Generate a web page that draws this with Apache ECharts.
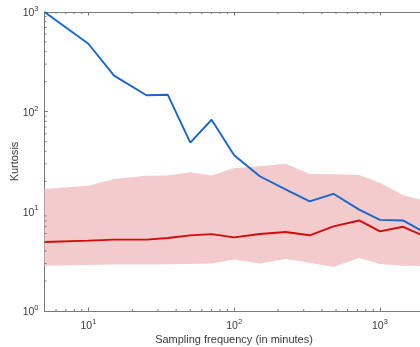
<!DOCTYPE html>
<html>
<head>
<meta charset="utf-8">
<script src="https://cdn.jsdelivr.net/npm/echarts@6/dist/echarts.min.js"></script>
<style>
  html, body { margin: 0; padding: 0; background: #fff; }
  #chart { width: 420px; height: 347px; }
</style>
</head>
<body>
<div id="chart"></div>
<script>
// Sampling frequency (minutes) and kurtosis statistics
const minutes = [5, 10, 15, 25, 35, 50, 70, 100, 150, 225, 330, 480, 720, 1000, 1440, 2880];
const kurtosisObserved = [1000, 480, 230, 146, 148, 49, 83, 36.5, 22.5, 16.6, 12.6, 15.0, 10.4, 8.2, 8.1, 4.6];
const kurtosisMedian = [4.93, 5.08, 5.2, 5.2, 5.4, 5.74, 5.9, 5.48, 5.93, 6.2, 5.75, 7.07, 8.1, 6.3, 7.0, 4.5];
const bandUpper = [16.8, 18.1, 21.1, 22.8, 22.9, 24.6, 22.9, 27.2, 28.3, 30.1, 23.7, 23.6, 23.2, 19.3, 14.5, 11.2];
const bandLower = [2.85, 2.9, 2.92, 2.92, 2.94, 2.96, 3.0, 3.28, 2.99, 3.33, 3.05, 2.77, 3.41, 2.97, 2.85, 2.85];

// Minor tick positions for the log axes
const xMinorTicks = [6, 7, 8, 9, 20, 30, 40, 50, 60, 70, 80, 90, 200, 300, 400, 500, 600, 700, 800, 900, 2000];
const yMinorTicks = [2, 3, 4, 5, 6, 7, 8, 9, 20, 30, 40, 50, 60, 70, 80, 90, 200, 300, 400, 500, 600, 700, 800, 900];

const X_MIN = 5, X_MAX = 2880, Y_MIN = 1, Y_MAX = 1000;
const FONT = "'Liberation Sans', Arial, Helvetica, sans-serif";
const AXIS_COLOR = '#7a7a7a';
const TEXT_COLOR = '#3a3a3a';

function powerLabel(v) {
  const e = Math.log10(v);
  if (Math.abs(e - Math.round(e)) < 1e-6) {
    return '{b|10}{s|' + Math.round(e) + '}';
  }
  return '';
}
const richPow = {
  b: { fontSize: 10.5, fontFamily: FONT, color: TEXT_COLOR, verticalAlign: 'bottom' },
  s: { fontSize: 7.5, fontFamily: FONT, color: TEXT_COLOR, verticalAlign: 'bottom', padding: [0, 0, 6, 0] }
};

const chart = echarts.init(document.getElementById('chart'), null, { renderer: 'canvas' });

chart.setOption({
  animation: false,
  backgroundColor: '#fff',
  textStyle: { fontFamily: FONT },
  grid: { left: 44.5, top: 12, bottom: 36, right: -26.9, containLabel: false, outerBoundsMode: 'none' },
  xAxis: [
    {
      type: 'log', logBase: 10, min: X_MIN, max: X_MAX, position: 'bottom',
      axisLine: { show: true, lineStyle: { color: AXIS_COLOR, width: 1 } },
      axisTick: { show: true, inside: true, length: 3.5, lineStyle: { color: AXIS_COLOR } },
      axisLabel: { show: true, margin: 7, formatter: powerLabel, rich: richPow, showMinLabel: false },
      splitLine: { show: false }
    },
    {
      type: 'log', logBase: 10, min: X_MIN, max: X_MAX, position: 'top',
      axisLine: { show: true, onZero: false, lineStyle: { color: AXIS_COLOR, width: 1 } },
      axisTick: { show: true, inside: true, length: 3.5, lineStyle: { color: AXIS_COLOR } },
      axisLabel: { show: false },
      splitLine: { show: false }
    }
  ],
  yAxis: {
    type: 'log', logBase: 10, min: Y_MIN, max: Y_MAX,
    name: 'Kurtosis', nameLocation: 'middle', nameGap: 24, nameMoveOverlap: false,
    nameTextStyle: { fontSize: 11, color: TEXT_COLOR, fontFamily: FONT },
    axisLine: { show: true, lineStyle: { color: AXIS_COLOR, width: 1 } },
    axisTick: { show: true, inside: true, length: 3.5, lineStyle: { color: AXIS_COLOR } },
    axisLabel: { show: true, margin: 6, formatter: powerLabel, rich: richPow },
    splitLine: { show: false }
  },
  graphic: [{
    type: 'text',
    style: {
      x: 234, y: 340, text: 'Sampling frequency (in minutes)',
      textAlign: 'center', textVerticalAlign: 'middle',
      fontSize: 11, fontFamily: FONT, fill: TEXT_COLOR
    }
  }],
  series: [
    {
      // shaded range between lower and upper bounds
      type: 'custom', name: 'range', z: 1, clip: true,
      data: [[minutes[0], bandLower[0]]],
      renderItem: function (params, api) {
        const pts = [];
        for (let i = 0; i < minutes.length; i++) pts.push(api.coord([minutes[i], bandUpper[i]]));
        for (let i = minutes.length - 1; i >= 0; i--) pts.push(api.coord([minutes[i], bandLower[i]]));
        return { type: 'polygon', shape: { points: pts }, style: { fill: '#f4cbcc', stroke: null } };
      }
    },
    {
      type: 'line', name: 'observed', z: 3, showSymbol: false, clip: true,
      data: minutes.map((m, i) => [m, kurtosisObserved[i]]),
      lineStyle: { color: '#1766cf', width: 1.9 }
    },
    {
      type: 'line', name: 'median', z: 3, showSymbol: false, clip: true,
      data: minutes.map((m, i) => [m, kurtosisMedian[i]]),
      lineStyle: { color: '#d20a0a', width: 1.9 }
    },
    {
      // minor ticks on bottom and top x axes
      type: 'custom', name: 'xMinor', z: 5, clip: false, silent: true,
      data: xMinorTicks.map(v => [v, Y_MIN]),
      renderItem: function (params, api) {
        const v = api.value(0);
        const b = api.coord([v, Y_MIN]);
        const t = api.coord([v, Y_MAX]);
        const st = { stroke: AXIS_COLOR, lineWidth: 1 };
        return {
          type: 'group', children: [
            { type: 'line', shape: { x1: b[0], y1: b[1], x2: b[0], y2: b[1] - 2 }, style: st },
            { type: 'line', shape: { x1: t[0], y1: t[1], x2: t[0], y2: t[1] + 2 }, style: st }
          ]
        };
      }
    },
    {
      // minor ticks on the y axis
      type: 'custom', name: 'yMinor', z: 5, clip: false, silent: true,
      data: yMinorTicks.map(v => [X_MIN, v]),
      renderItem: function (params, api) {
        const p = api.coord([X_MIN, api.value(1)]);
        return {
          type: 'line', shape: { x1: p[0], y1: p[1], x2: p[0] + 2, y2: p[1] },
          style: { stroke: AXIS_COLOR, lineWidth: 1 }
        };
      }
    }
  ]
});
</script>
</body>
</html>
